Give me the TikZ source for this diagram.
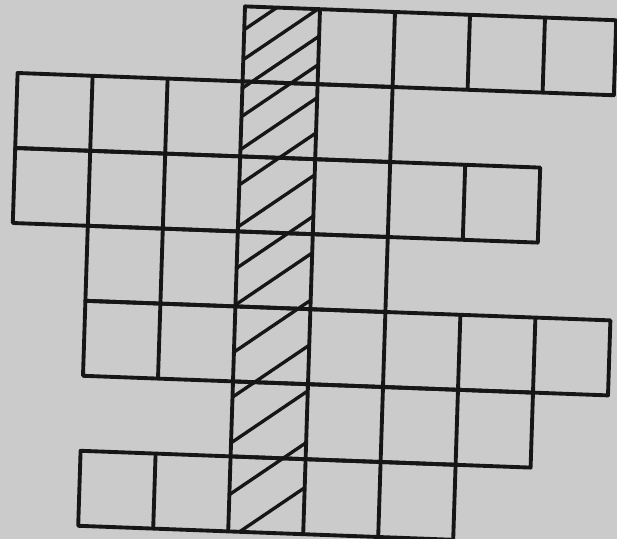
\documentclass[tikz,border=0pt]{standalone}
\usepackage{tikz}
\definecolor{paper}{RGB}{203,203,203}
\definecolor{ink}{RGB}{22,22,22}

\begin{document}
\begin{tikzpicture}[
    gridline/.style={draw=ink, line width=2.2pt, line join=round},
    hatchline/.style={draw=ink, line width=1.9pt}]
        % Paper
        \fill[paper] (0,0) rectangle (12.34,-10.78);
        \useasboundingbox (0,0) rectangle (12.34,-10.78);
        % Grid units: one cell, slightly turned like the scan
        \begin{scope}[shift={(0.4,0.04)}, x={(1.5cm,-0.056cm)}, y={(-0.048cm,-1.5cm)}]
        % Hatched column
        \begin{scope}
          \clip (3,0) -- (4,0) -- (4,7) -- (3,7) -- cycle;
          \draw[hatchline] (3,0.31) -- (4,-0.42);
          \draw[hatchline] (3,0.71) -- (4,-0.02);
          \draw[hatchline] (3,1.09) -- (4,0.36);
          \draw[hatchline] (3,1.47) -- (4,0.74);
          \draw[hatchline] (3,1.91) -- (4,1.18);
          \draw[hatchline] (3,2.38) -- (4,1.65);
          \draw[hatchline] (3,2.94) -- (4,2.21);
          \draw[hatchline] (3,3.49) -- (4,2.76);
          \draw[hatchline] (3,3.98) -- (4,3.25);
          \draw[hatchline] (3,4.61) -- (4,3.88);
          \draw[hatchline] (3,5.21) -- (4,4.48);
          \draw[hatchline] (3,5.82) -- (4,5.09);
          \draw[hatchline] (3,6.51) -- (4,5.78);
          \draw[hatchline] (3,7.11) -- (4,6.38);
        \end{scope}
        % Row 1: hatched cell and four cells to the right
        \draw[gridline] (3,0) -- (7.95,0) -- (7.95,1) -- (3,1) -- cycle;
        \draw[gridline] (4,0) -- (4,1) (5,0) -- (5,1) (6,0) -- (6,1) (7,0) -- (7,1);
        % Row 2
        \draw[gridline] (0,1) -- (5,1) -- (5,2) -- (0,2) -- cycle;
        \draw[gridline] (1,1) -- (1,2) (2,1) -- (2,2) (3,1) -- (3,2) (4,1) -- (4,2);
        % Row 3
        \draw[gridline] (0,2) -- (7,2) -- (7,3) -- (0,3) -- cycle;
        \draw[gridline] (1,2) -- (1,3) (2,2) -- (2,3) (3,2) -- (3,3) (4,2) -- (4,3) (5,2) -- (5,3) (6,2) -- (6,3);
        % Row 4
        \draw[gridline] (1,3) -- (5,3) -- (5,4) -- (1,4) -- cycle;
        \draw[gridline] (2,3) -- (2,4) (3,3) -- (3,4) (4,3) -- (4,4);
        % Row 5
        \draw[gridline] (1,4) -- (8,4) -- (8,5) -- (1,5) -- cycle;
        \draw[gridline] (2,4) -- (2,5) (3,4) -- (3,5) (4,4) -- (4,5) (5,4) -- (5,5) (6,4) -- (6,5) (7,4) -- (7,5);
        % Row 6
        \draw[gridline] (3,5) -- (7,5) -- (7,6) -- (3,6) -- cycle;
        \draw[gridline] (4,5) -- (4,6) (5,5) -- (5,6) (6,5) -- (6,6);
        % Row 7
        \draw[gridline] (1,6) -- (6,6) -- (6,7) -- (1,7) -- cycle;
        \draw[gridline] (2,6) -- (2,7) (3,6) -- (3,7) (4,6) -- (4,7) (5,6) -- (5,7);
        \end{scope}
      \end{tikzpicture}
\end{document}
